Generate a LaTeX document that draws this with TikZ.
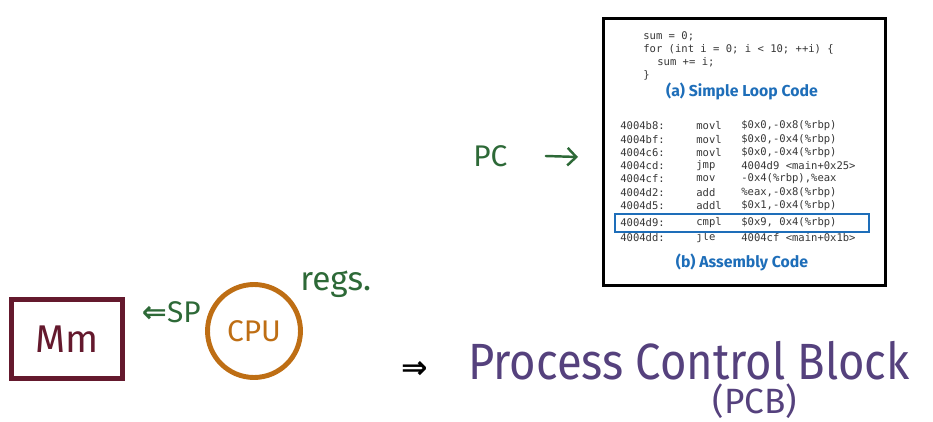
\documentclass[tikz,border=0pt]{standalone}
\usepackage{fontspec}
\setmainfont{Fira Sans}
\setsansfont{Fira Sans}
\setmonofont{DejaVu Sans Mono}
\newfontfamily\arrowfont{DejaVu Sans}
\usetikzlibrary{arrows.meta, positioning}
\definecolor{cInk}{RGB}{45,105,55}
\definecolor{cWine}{RGB}{100,25,45}
\definecolor{cRust}{RGB}{190,110,20}
\definecolor{cPlum}{RGB}{85,65,125}
\definecolor{cBlue}{RGB}{30,110,185}
\definecolor{cCode}{RGB}{55,55,55}
\tikzset{
	listing/.style ={rectangle, draw=black, line width=1.6pt, fill=white, minimum width=5.64cm, minimum height=5.34cm, anchor=north west, inner sep=0pt},
	srcline/.style ={anchor=west, inner sep=0pt, font=\ttfamily\fontsize{6}{7}\selectfont, text=cCode},
	caption/.style ={inner sep=0pt, font=\sffamily\bfseries\fontsize{9}{10}\selectfont, text=cBlue},
	hand/.style    ={inner sep=0pt, font=\fontsize{17}{19}\selectfont},
	scrawl/.style  ={line width=1.4pt, line cap=round},
}
\begin{document}
\begin{tikzpicture}[x=0.02cm, y=-0.02cm]
	\useasboundingbox (0,0) rectangle (933,422);
	% listing on the right
	\node[listing] (code) at (602,17) {};
	\foreach \x/\txt [count=\i] in {643/{sum = 0;}, 643/{for (int i = 0; i < 10; ++i) \{}, 657/{sum += i;}, 643/{\}}}
		\node[srcline] at (\x,{36+13*(\i-1)}) {\txt};
	\node[caption] (capa) at (742,91) {(a) Simple Loop Code};
	\foreach \addr/\op/\arg/\y in {4004b8:/movl/{\$0x0,-0x8(\%rbp)}/126, 4004bf:/movl/{\$0x0,-0x4(\%rbp)}/140, 4004c6:/movl/{\$0x0,-0x4(\%rbp)}/153, 4004cd:/jmp/{4004d9 <main+0x25>}/166, 4004cf:/mov/{-0x4(\%rbp),\%eax}/179, 4004d2:/add/{\%eax,-0x8(\%rbp)}/193, 4004d5:/addl/{\$0x1,-0x4(\%rbp)}/206, 4004d9:/cmpl/{\$0x9, 0x4(\%rbp)}/223, 4004dd:/jle/{4004cf <main+0x1b>}/238} {
		\node[srcline] at (620,\y) {\addr};
		\node[srcline] at (696,\y) {\op};
		\node[srcline] at (741,\y) {\arg};
	}
	\draw[cBlue, line width=1pt] (615,214) rectangle (869,232);
	\node[caption] (capb) at (742,262) {(b) Assembly Code};
	% handwriting
	\node[hand, text=cInk, anchor=west] (pc) at (473,156) {PC};
	\coordinate (pctip) at (578,157);
	\draw[scrawl, cInk, -{Straight Barb[length=5pt]}] ([xshift=0.76cm]pc.east) -- (pctip);
	\node[draw=cWine, line width=2.8pt, minimum width=2.22cm, minimum height=1.58cm, hand, font=\fontsize{22}{24}\selectfont, text=cWine] (mm) at (67,339) {Mm};
	\node[circle, draw=cRust, line width=2.8pt, minimum size=1.86cm, hand, text=cRust] (cpu) at (254,331) {CPU};
	\node[hand, text=cInk, anchor=east] (sp) at (201,312) {{\arrowfont\bfseries ⇐}SP};
	\node[hand, text=cInk, anchor=west, font=\fontsize{19}{21}\selectfont] (regs) at (300,284) {regs.};
	\node[hand, anchor=west, font=\arrowfont\bfseries\fontsize{18}{20}\selectfont] (impl) at (401,370) {⇒};
	\node[hand, text=cPlum, anchor=base west, font=\fontsize{29}{32}\selectfont] (pcb) at (468,379) {\scalebox{0.89}[1]{Process Control Block}};
	\node[hand, text=cPlum, anchor=base, font=\fontsize{20}{23}\selectfont] (pcbabbr) at (755,413) {(PCB)};
\end{tikzpicture}
\end{document}
